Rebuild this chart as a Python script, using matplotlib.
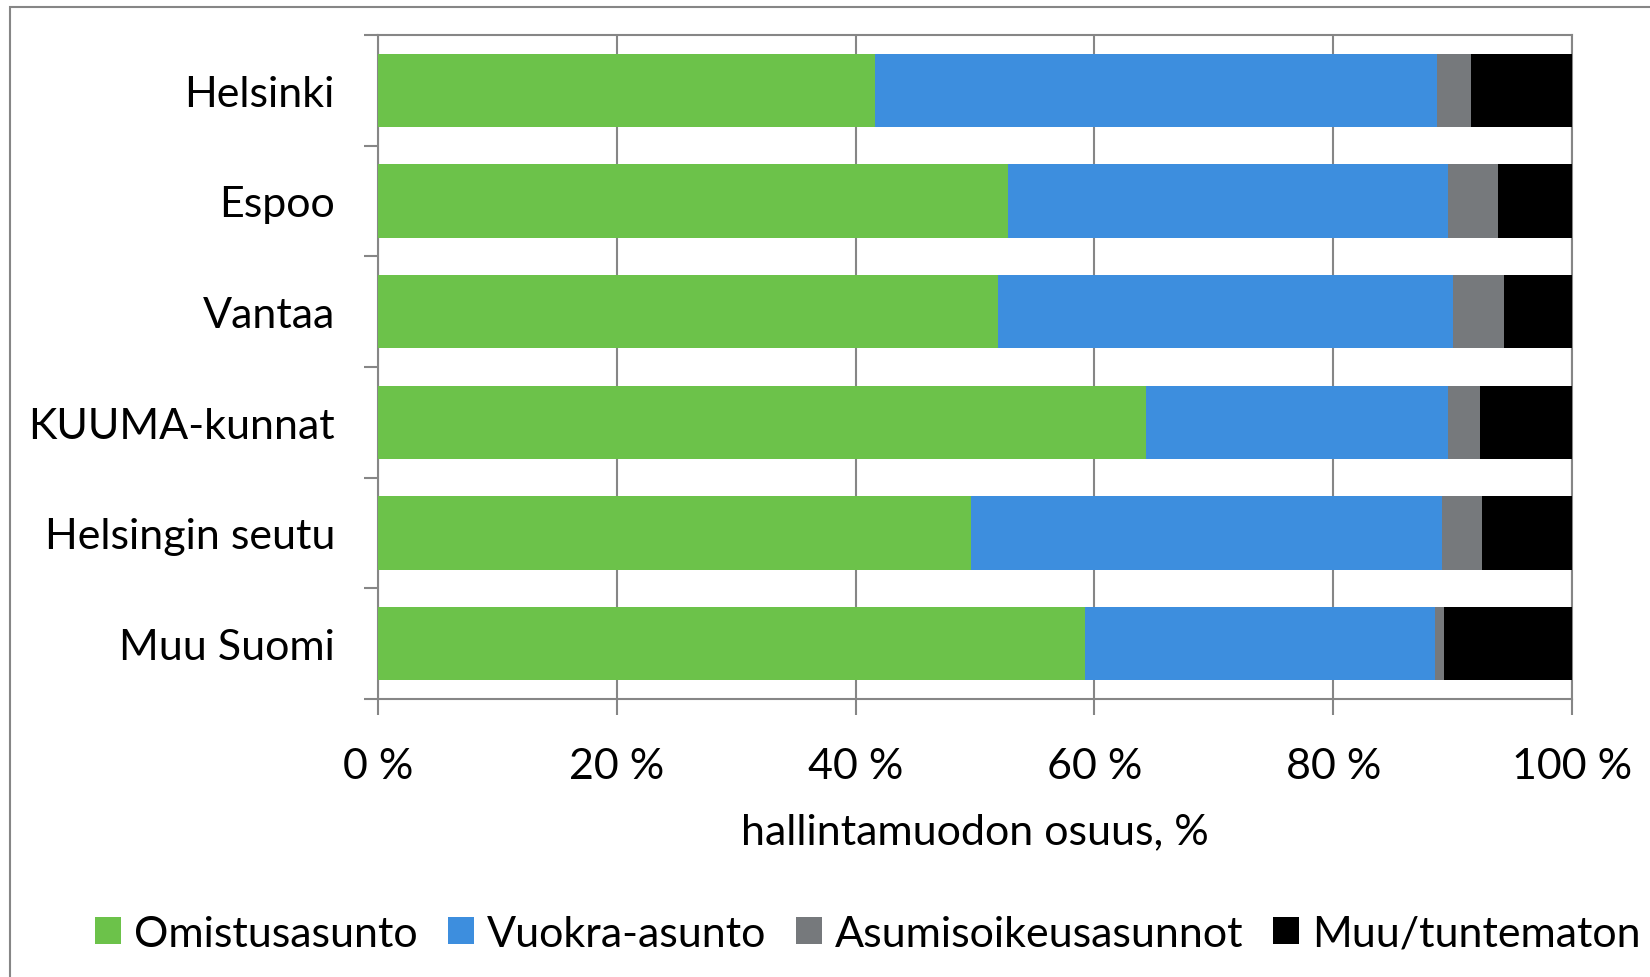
import matplotlib.pyplot as plt
import matplotlib.patches as mpatches
import numpy as np

plt.rcParams['font.family'] = ['Lato', 'DejaVu Sans']

# osuudet (%) alueittain
alueet = ['Helsinki', 'Espoo', 'Vantaa', 'KUUMA-kunnat', 'Helsingin seutu', 'Muu Suomi']
omistus = [41.6, 52.8, 51.9, 64.3, 49.7, 59.2]
vuokra = [47.1, 36.8, 38.1, 25.3, 39.4, 29.3]
asumisoikeus = [2.8, 4.2, 4.3, 2.7, 3.4, 0.8]
muu = [8.5, 6.2, 5.7, 7.7, 7.5, 10.7]

sarjat = ['Omistusasunto', 'Vuokra-asunto', 'Asumisoikeusasunnot', 'Muu/tuntematon']
varit = ['#6cc24a', '#3d8ede', '#76797c', '#000000']
xticks = [0, 20, 40, 60, 80, 100]

grid_col = '#868686'
fs = 31

fig = plt.figure(figsize=(16.5, 9.78), dpi=100)
ax = fig.add_axes([378 / 1650, 1 - 700 / 978, (1572 - 378) / 1650, (700 - 36) / 978])

y = np.arange(len(alueet))
left = np.zeros(len(alueet))
for vals, nimi, col in zip([omistus, vuokra, asumisoikeus, muu], sarjat, varit):
    ax.barh(y, vals, left=left, height=0.66, color=col, label=nimi, zorder=3)
    left += np.array(vals)

ax.set_xlim(0, 100)
ax.set_ylim(len(alueet) - 0.5, -0.5)

# x-akseli
ax.set_xticks(xticks)
ax.set_xticklabels([f'{v} %' for v in xticks])
ax.xaxis.grid(True, color=grid_col, linewidth=1.5, zorder=0)
ax.tick_params(axis='x', length=11.5, width=1.5, color=grid_col, labelsize=fs, pad=23)
ax.set_xlabel('hallintamuodon osuus, %', fontsize=fs, labelpad=20)

# y-akseli: viivat luokkien rajoilla, nimet keskellä
ax.set_yticks(np.arange(-0.5, len(alueet)))
ax.set_yticklabels([])
ax.set_yticks(y, minor=True)
ax.set_yticklabels(alueet, minor=True)
ax.tick_params(axis='y', which='major', length=10, width=1.5, color=grid_col)
ax.tick_params(axis='y', which='minor', length=0, labelsize=fs, pad=31)

for s in ax.spines.values():
    s.set_color(grid_col)
    s.set_linewidth(1.5)

# kaavion reunus
fig.patches.append(mpatches.Rectangle((10 / 1650, -0.1), 1.2, 1.1 - 7.5 / 978,
                                      transform=fig.transFigure, fill=False,
                                      edgecolor=grid_col, linewidth=1.5))

h, l = ax.get_legend_handles_labels()
fig.legend(h, l, loc='center', bbox_to_anchor=(868 / 1650, 1 - 935 / 978), ncol=4,
           frameon=False, fontsize=fs, handlelength=0.6, handleheight=0.6,
           handletextpad=0.3, columnspacing=0.7, borderaxespad=0)

plt.savefig('out.png', dpi=100)
plt.close()
